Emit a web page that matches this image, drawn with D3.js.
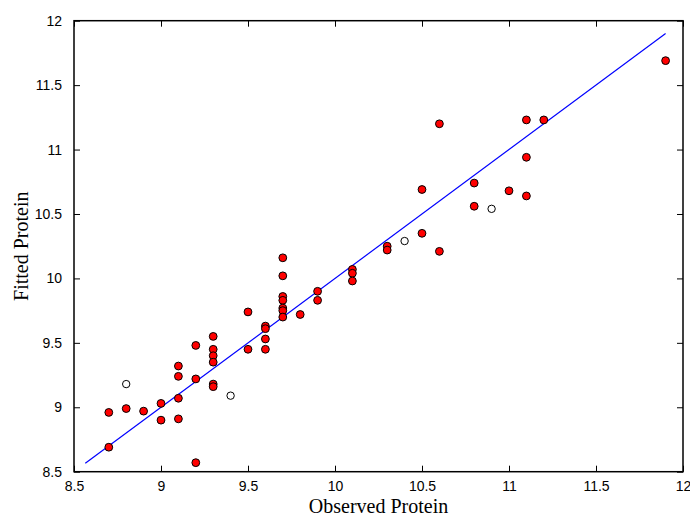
<!DOCTYPE html>
<html>
<head>
<meta charset="utf-8">
<script src="https://cdn.jsdelivr.net/npm/d3@7"></script>
<style>
  html, body { margin: 0; padding: 0; background: #fff; }
  svg { display: block; }
</style>
</head>
<body>
<svg id="chart" width="690" height="517"></svg>
<script>
// Calibration points (filled red)
const calObserved = [8.7, 8.7, 8.8, 8.9, 9.0, 9.0, 9.1, 9.1, 9.1, 9.1, 9.2, 9.2, 9.2,
  9.3, 9.3, 9.3, 9.3, 9.3, 9.3, 9.5, 9.5, 9.6, 9.6, 9.6, 9.6,
  9.7, 9.7, 9.7, 9.7, 9.7, 9.7, 9.7, 9.8, 9.9, 9.9,
  10.1, 10.1, 10.1, 10.3, 10.3, 10.5, 10.5, 10.6, 10.6,
  10.8, 10.8, 11.0, 11.1, 11.1, 11.1, 11.2, 11.9];
const calFitted = [8.96, 8.69, 8.99, 8.97, 9.03, 8.90, 9.32, 9.24, 9.07, 8.91, 9.48, 9.22, 8.57,
  9.55, 9.45, 9.40, 9.35, 9.18, 9.16, 9.45, 9.74, 9.63, 9.61, 9.53, 9.45,
  10.16, 10.02, 9.86, 9.83, 9.77, 9.75, 9.70, 9.72, 9.90, 9.83,
  10.07, 10.04, 9.98, 10.25, 10.22, 10.69, 10.35, 11.20, 10.21,
  10.74, 10.56, 10.68, 11.23, 10.94, 10.64, 11.23, 11.69];
// Validation points (open)
const valObserved = [8.8, 9.4, 10.4, 10.9];
const valFitted = [9.18, 9.09, 10.29, 10.54];
// Reference line y = x
const lineEnds = [8.565, 11.9];
const xTicks = [8.5, 9, 9.5, 10, 10.5, 11, 11.5, 12];
const yTicks = [8.5, 9, 9.5, 10, 10.5, 11, 11.5, 12];
const xTitle = "Observed Protein";
const yTitle = "Fitted Protein";

const svg = d3.select("#chart");
const L = 74, R = 683, T = 20.7, B = 471.7;
const x = d3.scaleLinear().domain([8.5, 12]).range([L, R]);
const y = d3.scaleLinear().domain([8.5, 12]).range([B, T]);
const fmt = d => String(d);
const tickLen = 6;

// Bottom axis (ticks inward)
const gx = svg.append("g").attr("transform", `translate(0,${B})`)
  .call(d3.axisBottom(x).tickValues(xTicks).tickFormat(fmt).tickSizeInner(-tickLen).tickSizeOuter(0).tickPadding(tickLen + 3));
// Left axis
const gy = svg.append("g").attr("transform", `translate(${L},0)`)
  .call(d3.axisLeft(y).tickValues(yTicks).tickFormat(fmt).tickSizeInner(-tickLen).tickSizeOuter(0).tickPadding(tickLen + 6));
// Top axis
const gt = svg.append("g").attr("transform", `translate(0,${T})`)
  .call(d3.axisTop(x).tickValues(xTicks).tickFormat("").tickSizeInner(-tickLen).tickSizeOuter(0));
// Right axis
const gr = svg.append("g").attr("transform", `translate(${R},0)`)
  .call(d3.axisRight(y).tickValues(yTicks).tickFormat("").tickSizeInner(-tickLen).tickSizeOuter(0));

[gx, gy, gt, gr].forEach(g => {
  g.select(".domain").remove();
  g.selectAll(".tick line").attr("stroke", "#000").attr("stroke-width", 1);
  g.selectAll(".tick text").attr("fill", "#000")
    .style("font-family", "Arial, 'Liberation Sans', sans-serif").style("font-size", "14px");
});
gx.selectAll(".tick text").attr("dy", "0.71em");

// Frame
svg.append("rect").attr("x", L).attr("y", T).attr("width", R - L).attr("height", B - T)
  .attr("fill", "none").attr("stroke", "#000").attr("stroke-width", 1.5);

// y = x line
svg.append("line")
  .attr("x1", x(lineEnds[0])).attr("y1", y(lineEnds[0]))
  .attr("x2", x(lineEnds[1])).attr("y2", y(lineEnds[1]))
  .attr("stroke", "#0000ff").attr("stroke-width", 1.2);

// Calibration points
svg.append("g").selectAll("circle").data(calObserved.map((v, i) => [v, calFitted[i]]))
  .join("circle")
  .attr("cx", d => x(d[0])).attr("cy", d => y(d[1])).attr("r", 3.9)
  .attr("fill", "#ff0000").attr("stroke", "#000").attr("stroke-width", 1);

// Validation points
svg.append("g").selectAll("circle").data(valObserved.map((v, i) => [v, valFitted[i]]))
  .join("circle")
  .attr("cx", d => x(d[0])).attr("cy", d => y(d[1])).attr("r", 3.7)
  .attr("fill", "#fff").attr("stroke", "#000").attr("stroke-width", 1);

// Titles
svg.append("text").attr("x", (L + R) / 2).attr("y", 513).attr("text-anchor", "middle")
  .style("font-family", "'Times New Roman', 'Liberation Serif', serif").style("font-size", "20px")
  .text(xTitle);
svg.append("text").attr("transform", `translate(28,${(T + B) / 2}) rotate(-90)`).attr("text-anchor", "middle")
  .style("font-family", "'Times New Roman', 'Liberation Serif', serif").style("font-size", "20px")
  .text(yTitle);
</script>
</body>
</html>
